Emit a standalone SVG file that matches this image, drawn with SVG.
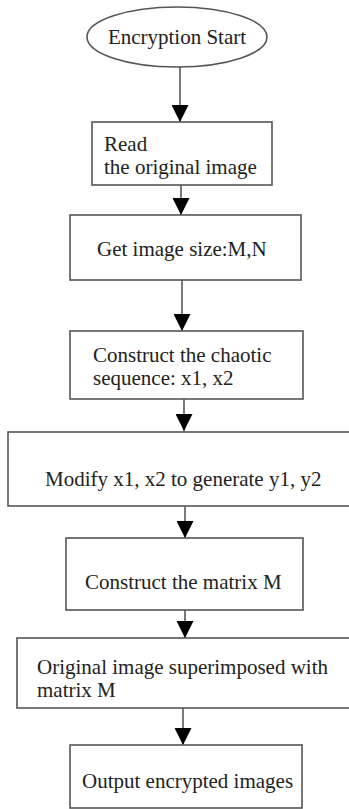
<svg xmlns="http://www.w3.org/2000/svg" width="349" height="809" viewBox="0 0 349 809">
<style>
.n{fill:#fff;stroke:#555;stroke-width:1.6}
.t{font-family:"Liberation Serif","Times New Roman",serif;font-size:21px;fill:#222}
.c{stroke:#333;stroke-width:1.3;fill:none}
</style>
<defs>
<marker id="ah" markerUnits="userSpaceOnUse" markerWidth="17" markerHeight="17" refX="17" refY="8.5" orient="auto" viewBox="0 0 17 17">
<path d="M0,0 L17,8.5 L0,17 z" fill="#000"/>
</marker>
</defs>
<rect width="349" height="809" fill="#fff"/>
<g id="connectors">
<line class="c" x1="180" y1="67" x2="180" y2="122" marker-end="url(#ah)"/>
<line class="c" x1="181" y1="185" x2="181" y2="215" marker-end="url(#ah)"/>
<line class="c" x1="182" y1="280" x2="182" y2="331" marker-end="url(#ah)"/>
<line class="c" x1="184" y1="399" x2="184" y2="431" marker-end="url(#ah)"/>
<line class="c" x1="185" y1="507" x2="185" y2="538" marker-end="url(#ah)"/>
<line class="c" x1="185" y1="610" x2="185" y2="638" marker-end="url(#ah)"/>
<line class="c" x1="183" y1="708" x2="183" y2="745" marker-end="url(#ah)"/>
</g>
<g id="start">
<ellipse class="n" cx="177" cy="37" rx="90" ry="30"/>
<text class="t" x="177" y="44" text-anchor="middle">Encryption Start</text>
</g>
<g id="read">
<rect class="n" x="92" y="122" width="180" height="63"/>
<text class="t" x="104" y="151">Read</text>
<text class="t" x="104" y="174">the original image</text>
</g>
<g id="size">
<rect class="n" x="70" y="215" width="231" height="65"/>
<text class="t" x="97" y="256">Get image size:M,N</text>
</g>
<g id="chaotic">
<rect class="n" x="70" y="331" width="233" height="68"/>
<text class="t" x="93" y="362">Construct the chaotic</text>
<text class="t" x="93" y="385">sequence: x1, x2</text>
</g>
<g id="modify">
<rect class="n" x="8" y="432" width="345" height="74"/>
<text class="t" x="45" y="486">Modify x1, x2 to generate y1, y2</text>
</g>
<g id="matrix">
<rect class="n" x="66" y="538" width="237" height="72"/>
<text class="t" x="85" y="589">Construct the matrix M</text>
</g>
<g id="superimpose">
<rect class="n" x="17" y="638" width="336" height="70"/>
<text class="t" x="37" y="674">Original image superimposed with</text>
<text class="t" x="37" y="697">matrix M</text>
</g>
<g id="output">
<rect class="n" x="70" y="745" width="232" height="63"/>
<text class="t" x="82" y="788">Output encrypted images</text>
</g>
</svg>
